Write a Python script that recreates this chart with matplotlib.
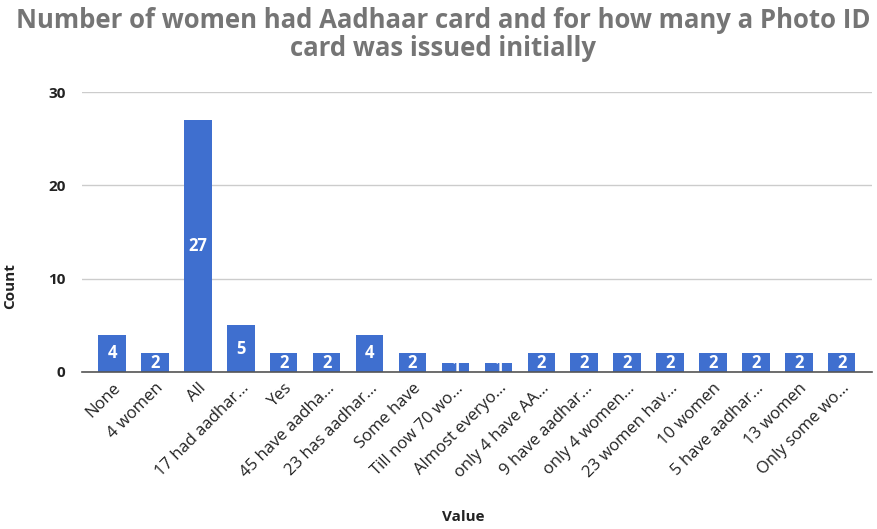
import matplotlib.pyplot as plt

# categories and counts
labels = ['None', '4 women', 'All', '17 had aadhar…', 'Yes', '45 have aadha…',
          '23 has aadhar…', 'Some have', 'Till now 70 wo…', 'Almost everyo…',
          'only 4 have AA…', '9 have aadhar…', 'only 4 women…', '23 women hav…',
          '10 women', '5 have aadhar…', '13 women', 'Only some wo…']
counts = [4, 2, 27, 5, 2, 2, 4, 2, 1, 1, 2, 2, 2, 2, 2, 2, 2, 2]

plt.rcParams['font.family'] = ['Open Sans', 'DejaVu Sans']

fig = plt.figure(figsize=(8.77, 5.29), dpi=100)
ax = fig.add_axes([0.0935, 0.297, 0.9005, 0.529])

blue = '#3f6fcf'
x = range(len(labels))
bars = ax.bar(x, counts, width=0.64, color=blue, zorder=3)

# value labels centred in the bars
for b, v in zip(bars, counts):
    ax.text(b.get_x() + b.get_width() / 2, v / 2, str(v), ha='center', va='center',
            color='white', fontsize=12, fontweight='bold', zorder=4)

ax.set_xlim(-0.7, len(labels) - 0.3)
ax.set_ylim(0, 30)
ax.set_yticks([0, 10, 20, 30])
ax.yaxis.grid(True, color='#cccccc', linewidth=1)
ax.set_axisbelow(True)
for s in ['top', 'right', 'left']:
    ax.spines[s].set_visible(False)
ax.spines['bottom'].set_color('#555555')
ax.spines['bottom'].set_linewidth(1.2)
ax.spines['bottom'].set_zorder(5)
ax.tick_params(axis='both', length=0)
ax.tick_params(axis='y', pad=12, labelsize=11, labelcolor='#222222')
for t in ax.get_yticklabels():
    t.set_fontweight('bold')

ax.set_xticks(list(x))
ax.set_xticklabels(labels, rotation=45, ha='right', rotation_mode='anchor',
                   fontsize=12, color='#222222')
ax.tick_params(axis='x', pad=6)

fig.text(0.505, 0.935, 'Number of women had Aadhaar card and for how many a Photo ID\ncard was issued initially',
         ha='center', va='center', fontsize=18.5, fontweight='bold', color='#757575',
         linespacing=1.05)
fig.text(0.528, 0.022, 'Value', ha='center', va='center', fontsize=11,
         fontweight='bold', color='#222222')
fig.text(0.012, 0.46, 'Count', ha='center', va='center', rotation=90, fontsize=11,
         fontweight='bold', color='#222222')

fig.savefig('out.png', dpi=100)
